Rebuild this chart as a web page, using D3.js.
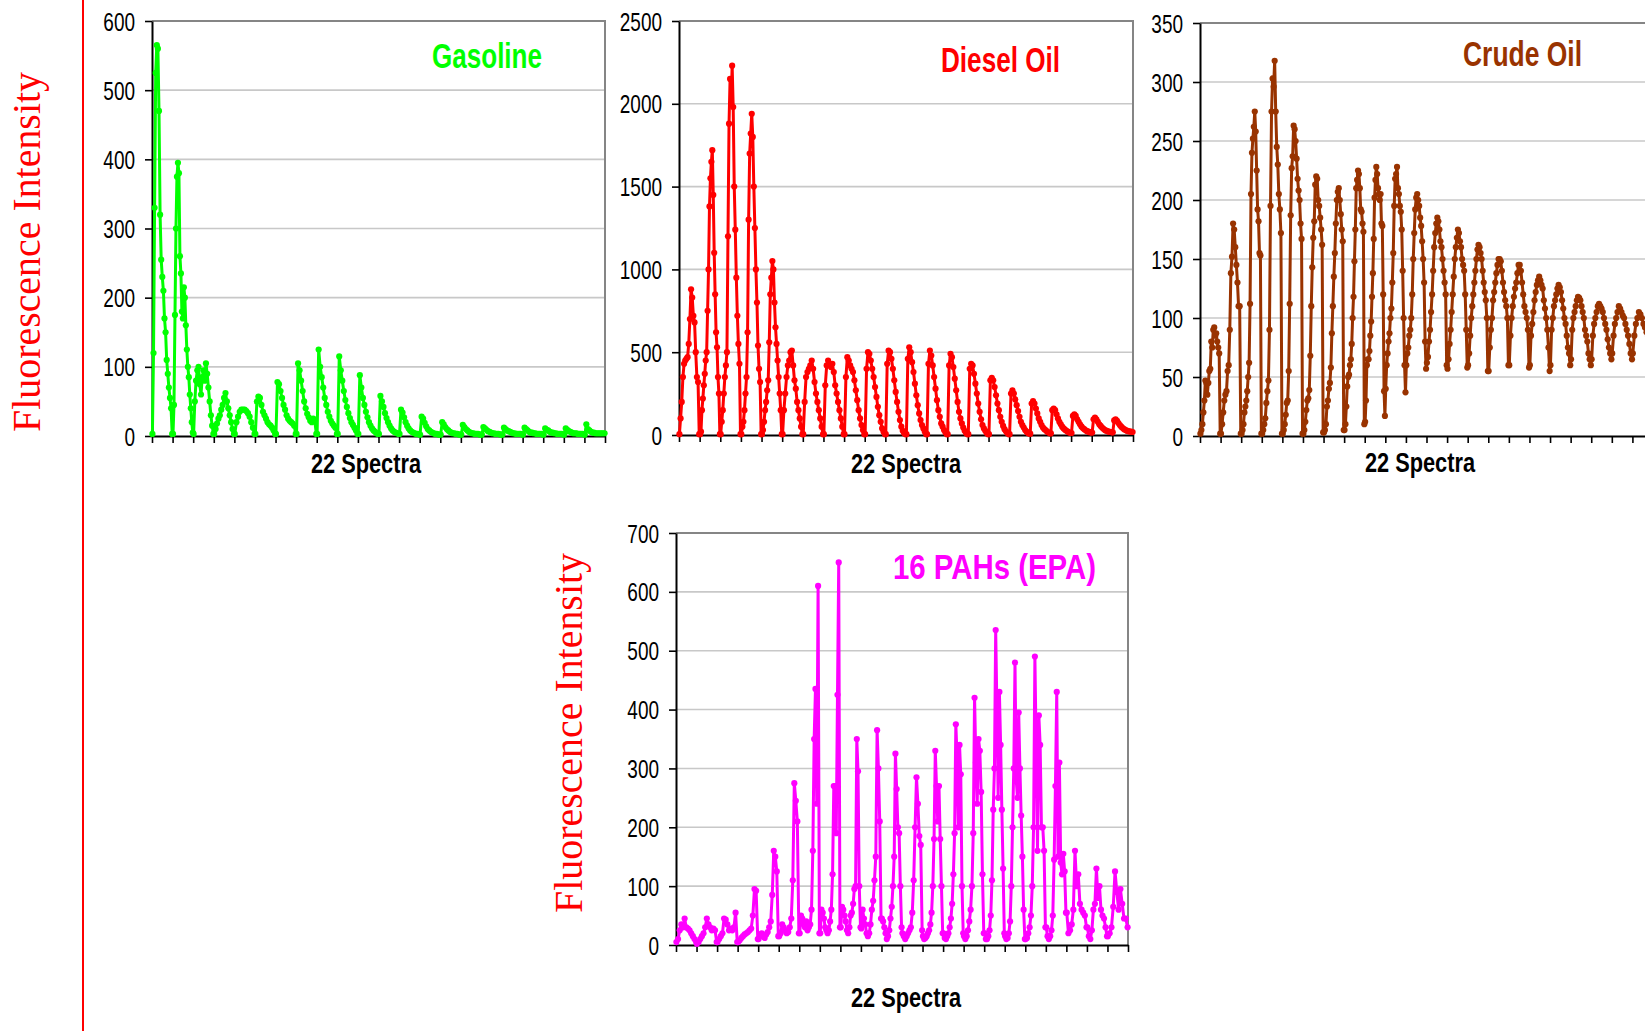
<!DOCTYPE html>
<html><head><meta charset="utf-8">
<script src="https://cdn.jsdelivr.net/npm/d3@7"></script>
<style>body{margin:0;background:#fff;overflow:hidden}svg{display:block}</style>
</head><body>
<svg id="chart" width="1645" height="1031"></svg>
<script>
// ---------------- DATA ----------------
const spectraLabel = "22 Spectra";
const yAxisTitle = "Fluorescence Intensity";
const panelTitles = ["Gasoline", "Diesel Oil", "Crude Oil", "16 PAHs (EPA)"];
const spectrumTicks = d3.range(23); // boundaries of the 22 spectra

const gasolineTicks = [0, 100, 200, 300, 400, 500, 600];
const dieselTicks = [0, 500, 1000, 1500, 2000, 2500];
const crudeTicks = [0, 50, 100, 150, 200, 250, 300, 350];
const pahTicks = [0, 100, 200, 300, 400, 500, 600, 700];

const gasolineSpectra = [
  [3, 120, 330, 525, 565, 560, 470, 320, 255, 230, 210, 170, 150, 110, 90, 70, 55, 40, 3],
  [3, 45, 175, 300, 375, 395, 380, 260, 235, 180, 170, 215, 200, 160, 125, 100, 85, 60, 40, 20, 5],
  [3, 50, 80, 95, 100, 75, 60, 85, 95, 80, 105, 90, 70, 50, 30, 15, 3],
  [3, 10, 18, 25, 30, 38, 45, 55, 62, 50, 40, 30, 20, 10, 3],
  [3, 20, 28, 35, 38, 38, 38, 36, 33, 28, 20, 12, 3],
  [3, 50, 57, 55, 45, 35, 30, 25, 20, 17, 15, 12, 8, 3],
  [3, 78, 75, 65, 55, 45, 38, 30, 25, 22, 20, 18, 15, 3],
  [3, 105, 95, 80, 65, 50, 40, 32, 27, 22, 20, 25, 22, 3],
  [3, 125, 100, 85, 70, 55, 45, 35, 28, 22, 18, 15, 12, 3],
  [3, 115, 95, 80, 65, 52, 42, 33, 26, 20, 16, 12, 8, 3],
  [3, 88, 70, 55, 45, 35, 27, 20, 15, 11, 8, 6, 4, 3],
  [3, 58, 50, 42, 33, 26, 20, 15, 11, 8, 6, 5, 4, 3],
  [3, 38, 34, 27, 20, 15, 11, 8, 6, 5, 4, 3, 3, 2],
  [2, 28, 25, 19, 14, 10, 8, 6, 5, 4, 3, 3, 2, 2],
  [2, 20, 17, 13, 10, 8, 6, 5, 4, 4, 3, 3, 2, 2],
  [2, 16, 13, 10, 8, 6, 5, 4, 4, 3, 3, 3, 2, 2],
  [2, 13, 11, 9, 7, 6, 5, 4, 4, 3, 3, 3, 2, 2],
  [2, 12, 10, 8, 7, 6, 5, 4, 4, 3, 3, 3, 3, 2],
  [2, 12, 10, 8, 6, 5, 5, 4, 4, 3, 3, 3, 3, 2],
  [2, 11, 9, 8, 6, 5, 5, 4, 4, 3, 3, 3, 3, 2],
  [2, 11, 9, 7, 6, 5, 4, 4, 4, 3, 3, 3, 3, 2],
  [2, 17, 10, 8, 6, 5, 5, 4, 4, 4, 4, 4, 4, 4]
];

const dieselSpectra = [
  [5, 100, 200, 350, 430, 450, 460, 470, 550, 700, 880, 830, 720, 680, 500, 350, 320, 5],
  [5, 20, 150, 220, 300, 370, 450, 500, 750, 1000, 1380, 1550, 1650, 1720, 1450, 1100, 850, 620, 530, 350, 250, 5],
  [5, 80, 150, 250, 350, 420, 500, 1200, 1880, 2150, 2000, 2230, 1980, 1500, 1240, 950, 720, 550, 430, 5],
  [5, 50, 80, 150, 250, 350, 620, 1300, 1700, 1820, 1940, 1800, 1500, 1250, 1000, 800, 540, 400, 320, 5],
  [5, 30, 80, 150, 200, 270, 330, 560, 850, 950, 1050, 1000, 800, 650, 550, 450, 350, 250, 150, 5],
  [5, 150, 250, 350, 420, 450, 500, 510, 420, 330, 280, 200, 150, 100, 50, 5],
  [5, 200, 350, 380, 400, 420, 450, 400, 320, 250, 200, 150, 100, 50, 5],
  [5, 300, 420, 450, 430, 410, 430, 380, 300, 250, 200, 150, 100, 50, 5],
  [5, 350, 470, 450, 420, 400, 380, 330, 270, 210, 150, 100, 60, 30, 5],
  [5, 400, 500, 490, 450, 400, 350, 290, 230, 170, 120, 80, 40, 20, 5],
  [5, 430, 510, 500, 460, 400, 330, 260, 200, 140, 90, 50, 25, 10, 5],
  [5, 460, 530, 500, 440, 380, 310, 240, 180, 130, 90, 60, 40, 20, 5],
  [5, 430, 510, 480, 420, 350, 280, 210, 150, 110, 70, 50, 30, 15, 5],
  [5, 420, 490, 470, 410, 340, 270, 200, 140, 100, 70, 45, 25, 12, 5],
  [5, 400, 430, 420, 370, 310, 250, 190, 140, 95, 60, 40, 25, 12, 5],
  [5, 330, 345, 330, 290, 240, 190, 150, 110, 80, 55, 35, 22, 12, 5],
  [5, 250, 270, 250, 215, 180, 145, 110, 80, 60, 45, 30, 20, 12, 8],
  [8, 190, 205, 190, 160, 130, 100, 80, 60, 45, 35, 28, 20, 15, 10],
  [10, 150, 160, 150, 125, 100, 80, 65, 50, 40, 32, 25, 20, 15, 12],
  [12, 115, 125, 115, 95, 80, 65, 52, 42, 35, 28, 23, 20, 17, 15],
  [15, 95, 105, 95, 80, 65, 55, 45, 37, 30, 26, 22, 20, 18, 16],
  [16, 88, 95, 85, 72, 60, 50, 42, 35, 30, 26, 23, 21, 20, 18]
];

const crudeSpectra = [
  [2, 5, 10, 20, 30, 47, 45, 35, 45, 55, 57, 80, 75, 90, 92, 85, 87, 80, 75, 70, 2],
  [2, 10, 20, 30, 35, 38, 55, 60, 90, 138, 152, 180, 175, 160, 145, 130, 110, 110, 2],
  [2, 5, 10, 20, 25, 30, 38, 50, 62, 112, 205, 240, 252, 262, 275, 258, 225, 192, 182, 155, 153, 2],
  [2, 5, 10, 15, 28, 38, 47, 90, 195, 275, 303, 296, 318, 275, 245, 230, 205, 192, 172, 2],
  [2, 5, 10, 18, 28, 30, 55, 112, 187, 227, 237, 263, 260, 250, 235, 218, 208, 200, 180, 167, 2],
  [2, 5, 12, 22, 30, 32, 39, 68, 110, 143, 168, 182, 213, 220, 218, 200, 195, 185, 175, 162, 3],
  [3, 5, 10, 25, 30, 40, 45, 58, 87, 110, 135, 155, 180, 200, 207, 210, 200, 188, 175, 165, 5],
  [5, 10, 25, 42, 50, 52, 60, 65, 78, 100, 118, 148, 175, 210, 217, 225, 222, 210, 192, 190, 180, 173, 10],
  [12, 30, 60, 65, 65, 72, 85, 97, 118, 138, 167, 202, 217, 228, 222, 210, 205, 200, 205, 180, 178, 120, 38, 17],
  [40, 60, 70, 80, 87, 100, 108, 130, 155, 195, 218, 222, 228, 210, 205, 195, 190, 175, 140, 100, 60, 37],
  [60, 70, 75, 85, 90, 100, 120, 150, 172, 192, 202, 205, 200, 195, 185, 178, 165, 150, 130, 80, 57],
  [62, 67, 80, 90, 105, 120, 140, 160, 172, 180, 185, 182, 175, 165, 160, 150, 140, 130, 120, 60],
  [57, 65, 78, 90, 105, 120, 135, 150, 160, 168, 175, 172, 165, 160, 150, 145, 140, 120, 90, 58],
  [60, 70, 85, 100, 110, 120, 130, 140, 150, 158, 162, 160, 155, 150, 140, 130, 122, 115, 100, 55],
  [55, 75, 90, 100, 115, 122, 130, 138, 145, 150, 150, 148, 140, 130, 122, 115, 110, 100, 60],
  [60, 85, 100, 110, 118, 125, 130, 138, 145, 145, 140, 130, 120, 110, 105, 100, 90, 58],
  [60, 85, 95, 105, 115, 122, 128, 132, 135, 132, 128, 125, 115, 108, 100, 90, 75, 55],
  [60, 90, 100, 110, 115, 120, 125, 128, 126, 122, 115, 108, 100, 95, 85, 75, 70, 60],
  [65, 90, 100, 105, 110, 115, 118, 117, 115, 110, 105, 100, 90, 85, 80, 70, 65, 60],
  [65, 85, 95, 100, 105, 110, 112, 110, 108, 105, 100, 95, 90, 82, 75, 70, 65],
  [70, 85, 95, 100, 105, 110, 108, 105, 102, 100, 95, 90, 85, 78, 70, 65],
  [70, 85, 95, 100, 105, 103, 100, 95, 92, 88, 85, 80, 75, 70]
];

const pahSpectra = [
  [5, 10, 25, 35, 30, 45, 30, 28, 25, 20, 15, 10, 5],
  [2, 5, 10, 15, 20, 30, 45, 35, 30, 25, 28, 25, 5],
  [5, 10, 15, 20, 45, 43, 35, 25, 28, 25, 30, 55, 5],
  [5, 8, 12, 15, 18, 20, 22, 25, 28, 50, 95, 92, 10],
  [10, 15, 20, 15, 12, 18, 22, 30, 40, 85, 160, 150, 125, 15],
  [15, 20, 35, 30, 25, 20, 22, 30, 45, 110, 275, 245, 210, 20],
  [20, 50, 45, 35, 30, 40, 25, 30, 35, 60, 160, 350, 435, 240, 610, 20],
  [20, 60, 55, 45, 30, 25, 20, 25, 40, 60, 120, 270, 270, 190, 425, 650, 30],
  [30, 65, 60, 50, 40, 25, 20, 30, 50, 55, 70, 95, 100, 350, 295, 100, 30],
  [28, 60, 45, 35, 20, 15, 20, 35, 60, 75, 110, 150, 365, 300, 210, 45],
  [45, 40, 30, 20, 10, 15, 25, 45, 65, 100, 150, 325, 265, 200, 190, 100, 30],
  [20, 15, 10, 15, 20, 25, 30, 55, 110, 200, 285, 240, 185, 170, 25],
  [15, 10, 12, 15, 20, 25, 35, 55, 100, 180, 330, 270, 210, 270, 180, 100, 20],
  [20, 12, 10, 15, 20, 30, 45, 70, 120, 190, 375, 320, 200, 340, 290, 100, 20],
  [15, 10, 15, 25, 40, 60, 100, 190, 420, 310, 240, 350, 330, 260, 120, 20],
  [20, 10, 10, 15, 25, 50, 110, 230, 300, 535, 400, 250, 430, 340, 230, 130, 20],
  [15, 10, 12, 20, 40, 100, 200, 300, 480, 280, 250, 395, 300, 220, 150, 60, 10],
  [10, 12, 20, 30, 50, 100, 200, 490, 330, 160, 390, 340, 200, 200, 160, 30],
  [30, 15, 10, 15, 25, 50, 145, 270, 430, 150, 310, 140, 120, 155, 125, 55],
  [55, 20, 25, 35, 60, 160, 100, 120, 70, 60, 55, 50, 30],
  [30, 15, 10, 25, 60, 70, 130, 80, 100, 60, 50, 45, 30, 15],
  [15, 20, 30, 65, 125, 90, 60, 95, 70, 45, 45, 30]
];

// ---------------- LAYOUT ----------------
const svg = d3.select("#chart");

function fontAvailable(name) {
  const c = document.createElement("canvas").getContext("2d");
  c.font = "40px monospace"; const w0 = c.measureText("Spectra 2500").width;
  c.font = "40px '" + name + "', monospace"; const w1 = c.measureText("Spectra 2500").width;
  return Math.abs(w0 - w1) > 0.5;
}
const narrowOK = fontAvailable("Liberation Sans Narrow");
const sansFont = narrowOK ? "'Liberation Sans Narrow', 'Arial Narrow', sans-serif" : "'Liberation Sans', Arial, sans-serif";
const tickSqueeze = narrowOK ? 0.89 : 0.73;
const tickFontSize = 26;

const panels = [
  {spectra: gasolineSpectra, ticks: gasolineTicks, title: panelTitles[0], color: "#00ff00",
   left: 152, right: 605, top: 21, bottom: 436,
   titleX: 432, titleBase: 68, titleW: 110, xlabX: 311, xlabBase: 473},
  {spectra: dieselSpectra, ticks: dieselTicks, title: panelTitles[1], color: "#ff0000",
   left: 679, right: 1133, top: 21, bottom: 435,
   titleX: 941, titleBase: 72, titleW: 119, xlabX: 851, xlabBase: 473},
  {spectra: crudeSpectra, ticks: crudeTicks, title: panelTitles[2], color: "#993300",
   left: 1200, right: 1653, top: 23, bottom: 436,
   titleX: 1463, titleBase: 66, titleW: 119, xlabX: 1365, xlabBase: 472},
  {spectra: pahSpectra, ticks: pahTicks, title: panelTitles[3], color: "#ff00ff",
   left: 676, right: 1128, top: 533, bottom: 945,
   titleX: 893, titleBase: 579, titleW: 203, xlabX: 851, xlabBase: 1007}
];

function drawPanel(p) {
  const x = d3.scaleLinear().domain([0, 22]).range([p.left, p.right]);
  const y = d3.scaleLinear().domain([0, p.ticks[p.ticks.length - 1]]).range([p.bottom, p.top]);
  const g = svg.append("g");

  g.selectAll("line.grid").data(p.ticks.slice(1, -1)).join("line")
    .attr("class", "grid")
    .attr("x1", p.left).attr("x2", p.right)
    .attr("y1", d => y(d)).attr("y2", d => y(d))
    .attr("stroke", "#c8c8c8").attr("stroke-width", 1.6);
  g.append("path")
    .attr("d", `M${p.left},${y(p.ticks[p.ticks.length - 1])}H${p.right}V${p.bottom}`)
    .attr("fill", "none").attr("stroke", "#858585").attr("stroke-width", 2);

  const ya = g.append("g").attr("transform", `translate(${p.left},0)`)
    .call(d3.axisLeft(y).tickValues(p.ticks).tickFormat(d3.format("d"))
      .tickSize(7).tickSizeOuter(0).tickPadding(10));
  const xa = g.append("g").attr("transform", `translate(0,${p.bottom})`)
    .call(d3.axisBottom(x).tickValues(spectrumTicks).tickFormat("").tickSize(7).tickSizeOuter(0));
  [ya, xa].forEach(a => {
    a.select(".domain").attr("stroke", "#000").attr("stroke-width", 2);
    a.selectAll(".tick line").attr("stroke", "#000").attr("stroke-width", 1.6);
  });
  ya.selectAll(".tick text")
    .attr("font-family", sansFont).attr("font-size", tickFontSize).attr("fill", "#000")
    .attr("dy", "0.35em")
    .attr("transform", function () {
      const tx = +d3.select(this).attr("x");
      return `translate(${tx},0) scale(${tickSqueeze},1) translate(${-tx},0)`;
    });

  const pts = [];
  p.spectra.forEach((s, i) => s.forEach((v, j) => pts.push({xv: i + 0.02 + 0.96 * j / (s.length - 1), v})));
  const line = d3.line().x(d => x(d.xv)).y(d => y(d.v));
  g.append("path").datum(pts).attr("d", line)
    .attr("fill", "none").attr("stroke", p.color).attr("stroke-width", 3).attr("stroke-linejoin", "round");
  g.selectAll("circle").data(pts).join("circle")
    .attr("cx", d => x(d.xv)).attr("cy", d => y(d.v)).attr("r", 3.1).attr("fill", p.color);

  g.append("text").text(p.title)
    .attr("x", p.titleX).attr("y", p.titleBase)
    .attr("font-family", sansFont).attr("font-weight", "bold").attr("font-size", 35)
    .attr("fill", p.color).attr("textLength", p.titleW).attr("lengthAdjust", "spacingAndGlyphs");
  g.append("text").text(spectraLabel)
    .attr("x", p.xlabX).attr("y", p.xlabBase)
    .attr("font-family", sansFont).attr("font-weight", "bold").attr("font-size", 27)
    .attr("fill", "#000").attr("textLength", 110).attr("lengthAdjust", "spacingAndGlyphs");
}
panels.forEach(drawPanel);

// y-axis titles
[{x: 40, cy: 252}, {x: 582, cy: 733}].forEach(t => {
  svg.append("text").text(yAxisTitle)
    .attr("transform", `translate(${t.x},${t.cy}) rotate(-90)`)
    .attr("text-anchor", "middle")
    .attr("font-family", "'Liberation Serif', 'Times New Roman', serif").attr("font-size", 39)
    .attr("fill", "#ff0000").attr("textLength", 360).attr("lengthAdjust", "spacingAndGlyphs");
});
// red vertical divider
svg.append("line").attr("x1", 83).attr("x2", 83).attr("y1", 0).attr("y2", 1031)
  .attr("stroke", "#ff0000").attr("stroke-width", 2);
</script>
</body></html>
